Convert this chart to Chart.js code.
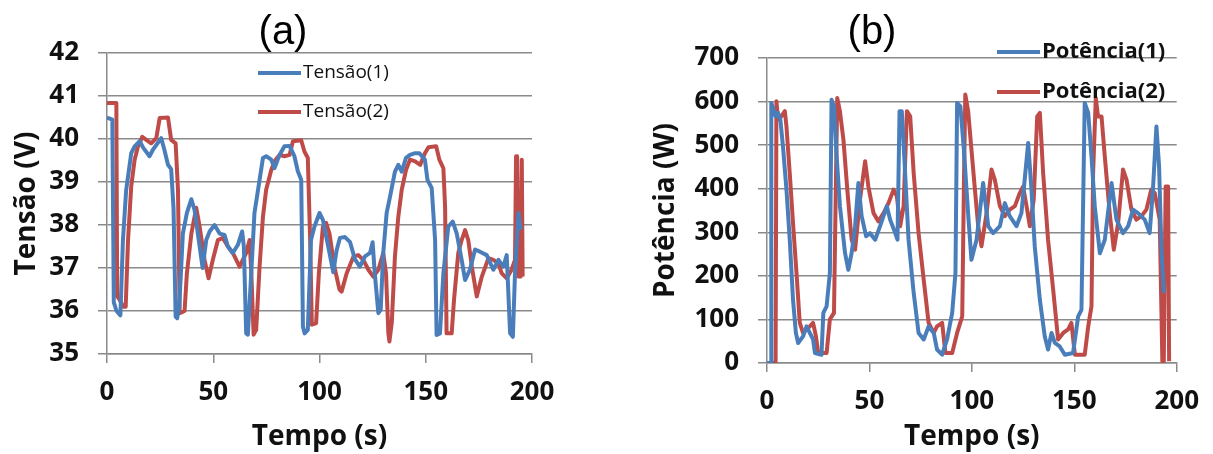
<!DOCTYPE html>
<html>
<head>
<meta charset="utf-8">
<script src="https://cdn.jsdelivr.net/npm/chart.js@4/dist/chart.umd.min.js"></script>
<style>
  body { margin: 0; background: #fff; }
  #wrap { position: relative; width: 1213px; height: 454px; }
  canvas { position: absolute; top: 0; }
  #cA { left: 0; }
  #cB { left: 606px; }
</style>
</head>
<body>
<div id="wrap">
  <canvas id="cA" width="606" height="454"></canvas>
  <canvas id="cB" width="607" height="454"></canvas>
</div>
<script>
// ---- dados ----
// (a) Tensão
const tempoT1 = [0, 2.5, 3.2, 4.5, 6.3, 7.5, 9, 11.4, 13, 15.4, 17, 20, 21.6, 25.5, 27, 28.7, 30.2, 31.3, 32.3, 33, 34, 35.7, 37.6, 39.7, 41.2, 43.6, 45, 46.7, 48.3, 50.6, 53, 55.3, 56.9, 59.2, 61.6, 63.6, 64.4, 65.5, 66.3, 67.9, 69.4, 71.8, 73.4, 74.9, 77.3, 78.8, 81.2, 83.5, 85.9, 88.2, 89.8, 91.4, 92.2, 93, 94.5, 96, 97.6, 100, 101.6, 104.7, 106.5, 108, 109.6, 112, 114.4, 116.7, 119, 121.4, 123.8, 125, 126, 127.7, 128.8, 130, 131.6, 133.2, 135.5, 137.1, 138.7, 140.7, 142.6, 145, 147, 149.6, 150.8, 152.8, 154.4, 155.1, 156.7, 158.3, 160.6, 162.7, 164.6, 166.9, 168.5, 170.8, 173.2, 175.5, 178.7, 181.8, 184.2, 186.5, 188.1, 189.7, 191, 192, 193.6, 194.4, 195];
const tensao1 = [40.5, 40.45, 36.2, 36.0, 35.9, 37.65, 38.8, 39.67, 39.83, 39.95, 39.8, 39.6, 39.75, 40.02, 39.75, 39.4, 39.3, 38.4, 35.87, 35.83, 36.1, 37.8, 38.28, 38.6, 38.35, 37.5, 37.0, 37.65, 37.85, 38.0, 37.8, 37.77, 37.5, 37.35, 37.54, 37.85, 37.5, 35.48, 35.45, 36.9, 38.28, 39.05, 39.56, 39.6, 39.52, 39.32, 39.63, 39.83, 39.84, 39.6, 39.25, 39.05, 35.64, 35.48, 35.56, 37.65, 37.96, 38.28, 38.12, 37.35, 36.9, 37.4, 37.7, 37.72, 37.6, 37.2, 37.03, 37.27, 37.35, 37.6, 36.88, 35.95, 36.03, 37.35, 38.28, 38.66, 39.24, 39.4, 39.24, 39.56, 39.63, 39.67, 39.67, 39.52, 39.05, 38.86, 37.65, 35.44, 35.48, 36.88, 37.96, 38.08, 37.8, 37.19, 36.72, 36.96, 37.43, 37.38, 37.3, 36.96, 37.19, 37.03, 37.3, 35.48, 35.4, 36.88, 38.28, 37.96, 37.9];

const tempoT2 = [0, 4.4, 4.8, 6, 7.5, 8.8, 9.9, 11.4, 13, 14.6, 16.6, 18.5, 20.8, 23.2, 24.8, 28.7, 30.2, 32.3, 33.4, 34.2, 36.5, 37.6, 39.7, 42, 43.6, 45.9, 47.8, 49.8, 52.2, 54.5, 56.9, 59.2, 62.4, 65.5, 67.1, 67.9, 69, 70.2, 71.8, 73.4, 74.9, 77.3, 78.8, 81.2, 83.5, 85.9, 87.5, 91.4, 92.9, 94.5, 95.6, 96.4, 98.4, 99.7, 101.6, 103.1, 104.7, 107, 109.4, 110.4, 112.8, 116, 118.3, 120.6, 123, 125.3, 127.7, 130, 131.3, 132.4, 132.9, 134, 135.5, 137.1, 138.7, 140.7, 142.6, 145, 147.4, 149.6, 151.3, 154.9, 156.4, 158.3, 159.1, 159.8, 162.2, 163.3, 165.3, 166.9, 168.5, 170, 171.7, 174, 176.4, 179.5, 181.8, 184.2, 185.7, 188.1, 190.4, 192, 192.5, 193, 193.6, 194.7, 195.2, 195.6];
const tensao2 = [40.84, 40.84, 36.34, 36.26, 36.1, 36.1, 37.65, 38.9, 39.52, 39.83, 40.05, 39.98, 39.9, 40.02, 40.49, 40.5, 39.98, 39.9, 38.82, 35.95, 36.0, 36.88, 37.8, 38.4, 37.96, 37.19, 36.76, 37.19, 37.65, 37.7, 37.5, 37.35, 37.03, 37.35, 37.65, 36.9, 35.45, 35.56, 37.03, 38.2, 38.82, 39.28, 39.48, 39.63, 39.6, 39.63, 39.95, 39.97, 39.71, 39.56, 37.65, 35.68, 35.72, 36.88, 37.96, 38.05, 37.8, 37.03, 36.5, 36.45, 36.88, 37.27, 37.3, 37.19, 36.96, 36.8, 36.96, 37.35, 36.88, 35.48, 35.29, 35.72, 37.27, 38.2, 38.82, 39.28, 39.52, 39.48, 39.4, 39.67, 39.81, 39.83, 39.52, 39.32, 38.43, 35.48, 35.48, 36.26, 37.35, 37.65, 37.88, 37.65, 37.03, 36.34, 36.8, 37.23, 37.19, 37.11, 36.88, 36.76, 36.96, 37.19, 39.6, 39.6, 36.8, 36.8, 39.52, 36.8];

// (b) Potência
const tempoP1 = [0, 2, 2.1, 3, 4.2, 5.4, 6.5, 7.8, 9.5, 11.1, 12.7, 14.1, 15.2, 17.6, 19.3, 20.9, 22.5, 23.4, 26.6, 27.5, 29.1, 30.7, 31.5, 32.7, 34, 35.6, 38.1, 39.7, 41.3, 43, 44.6, 46.2, 48.4, 50.3, 52.8, 55.2, 58.5, 60.1, 62.6, 63.7, 64.7, 65.8, 67, 69.1, 71.6, 74, 76.5, 78.9, 81.4, 83, 85.5, 87.9, 90.4, 92, 92.8, 94.4, 96.1, 98.5, 99.8, 102.3, 105.5, 108, 110.4, 113.7, 116.1, 118.5, 121.8, 124.2, 125.8, 127.5, 129.1, 130.7, 133.2, 135.6, 137.2, 138.9, 140.5, 142.9, 145.4, 149.4, 151.9, 153.5, 155.1, 156.8, 158.4, 160, 162.5, 164.9, 168.2, 170.6, 173.8, 176.3, 178.7, 181.1, 184.4, 186.8, 188.4, 190.1, 191.4, 192.5, 193.7];
const potencia1 = [0, 0, 597, 585, 566, 574, 559, 497, 398, 283, 145, 69, 46, 61, 84, 69, 54, 23, 19, 115, 130, 207, 604, 589, 474, 360, 252, 214, 252, 314, 413, 337, 291, 298, 283, 314, 360, 329, 298, 283, 578, 578, 474, 283, 161, 69, 54, 84, 69, 31, 19, 54, 115, 207, 597, 589, 490, 321, 237, 283, 413, 314, 298, 314, 367, 337, 314, 344, 421, 505, 398, 268, 145, 61, 31, 69, 46, 38, 19, 23, 107, 122, 597, 574, 474, 360, 252, 283, 413, 329, 298, 314, 352, 344, 329, 298, 398, 543, 451, 268, 161];

const tempoP2 = [0, 4.2, 4.6, 5.4, 7, 8.7, 9.5, 11.1, 12.7, 14.4, 16, 17.6, 19.3, 20.9, 22.5, 23.9, 25, 29.1, 30.7, 32.7, 33.7, 34.3, 35.6, 37.3, 39.2, 41.3, 43, 45.4, 47.9, 49.5, 52, 54.4, 56.9, 59.3, 61.8, 63.4, 65, 66.7, 68.3, 69.9, 71.6, 74, 76.5, 78.9, 81.4, 83, 85.5, 87.1, 90.4, 92.8, 95.3, 96.2, 96.8, 98.2, 99.8, 101.5, 103.1, 104.7, 107.2, 109.6, 111.2, 113.7, 116.1, 118.5, 121, 123.4, 125, 126.7, 128.3, 130.2, 131.9, 133.2, 134.8, 137.2, 139.7, 142.1, 144.6, 147, 148.6, 150.3, 155.1, 156.8, 158.4, 159.2, 160.5, 161.6, 163.3, 164.9, 167.3, 169.3, 171.4, 173.8, 175.5, 177.9, 180.3, 182.8, 185.2, 187.6, 189.3, 191.7, 193, 193.7, 194.6, 195.8, 196.3];
const potencia2 = [0, 0, 601, 559, 566, 578, 543, 436, 321, 207, 92, 69, 77, 84, 92, 61, 23, 23, 100, 115, 436, 608, 578, 513, 398, 283, 260, 375, 463, 405, 344, 325, 344, 367, 398, 383, 314, 360, 578, 566, 436, 298, 191, 92, 69, 84, 92, 23, 23, 69, 107, 436, 616, 578, 490, 398, 314, 268, 344, 444, 421, 360, 337, 352, 360, 390, 405, 360, 314, 375, 566, 574, 436, 283, 168, 54, 69, 77, 92, 19, 19, 84, 130, 436, 608, 566, 566, 474, 344, 260, 321, 444, 421, 352, 329, 337, 352, 398, 390, 329, 4, 4, 405, 405, 4];

const ticksTempo = [0, 50, 100, 150, 200];

// ---- estilos ----
const azul = '#4a7ebb';
const vermelho = '#be4b48';
const cinza = '#8a8a8a';
const fonteEixo = 'Open Sans';

function pares(xs, ys) {
  return xs.map((x, i) => ({ x: x, y: ys[i] }));
}

// desenha o rótulo (a)/(b) e a legenda
const painel = {
  id: 'painel',
  afterDraw(chart, args, o) {
    const ctx = chart.ctx;
    ctx.save();
    ctx.fillStyle = '#000';
    ctx.font = '40px "Liberation Sans"';
    ctx.textAlign = 'center';
    ctx.textBaseline = 'alphabetic';
    ctx.fillText(o.rotulo, o.rotuloX, o.rotuloY);
    chart.data.datasets.forEach((ds, i) => {
      const y = o.legY[i];
      ctx.strokeStyle = ds.borderColor;
      ctx.lineWidth = 4;
      ctx.beginPath();
      ctx.moveTo(o.legX, y);
      ctx.lineTo(o.legX + 43, y);
      ctx.stroke();
      ctx.fillStyle = '#111';
      ctx.font = o.legFonte;
      ctx.textAlign = 'left';
      ctx.textBaseline = 'middle';
      ctx.fillText(ds.label, o.legX + 45, y);
    });
    ctx.restore();
  }
};

function criar(id, cfg) {
  return new Chart(document.getElementById(id), {
    type: 'line',
    data: {
      datasets: cfg.series.map(s => ({
        label: s.label,
        data: s.data,
        borderColor: s.cor,
        borderWidth: 4,
        pointRadius: 0,
        tension: 0,
        borderJoinStyle: 'round',
        fill: false
      }))
    },
    options: {
      responsive: false,
      animation: false,
      layout: { padding: { left: 0, top: cfg.top, right: cfg.right, bottom: 0 } },
      plugins: {
        legend: { display: false },
        tooltip: { enabled: false },
        painel: cfg.painel
      },
      scales: {
        x: {
          type: 'linear',
          min: 0, max: 200,
          afterBuildTicks: s => { s.ticks = ticksTempo.map(v => ({ value: v })); },
          grid: { drawOnChartArea: false, drawTicks: true, tickLength: 9, color: cinza, lineWidth: 1.5 },
          border: { color: cinza, width: 1.5 },
          ticks: { color: '#111', padding: 14, font: { family: fonteEixo, size: 26, weight: 'bold' } },
          title: { display: true, text: 'Tempo (s)', color: '#111', padding: { top: 0, bottom: 0 },
                   font: { family: fonteEixo, size: 28, weight: 'bold' } },
          afterFit: s => { s.height = cfg.xAltura; }
        },
        y: {
          min: cfg.yMin, max: cfg.yMax,
          ticks: { stepSize: cfg.yPasso, color: '#111', padding: 19,
                   font: { family: fonteEixo, size: 26, weight: 'bold' } },
          grid: { color: cinza, lineWidth: 1.5, tickLength: 9 },
          border: { color: cinza, width: 1.5 },
          title: { display: true, text: cfg.yTitulo, color: '#111', padding: { top: cfg.yTitPad, bottom: 0 },
                   font: { family: fonteEixo, size: 28, weight: 'bold' } },
          afterFit: s => { s.width = cfg.yLargura; }
        }
      }
    },
    plugins: [painel]
  });
}

criar('cA', {
  series: [
    { label: 'Tensão(1)', data: pares(tempoT1, tensao1), cor: azul },
    { label: 'Tensão(2)', data: pares(tempoT2, tensao2), cor: vermelho }
  ],
  top: 53, right: 74, xAltura: 100, yLargura: 107, yTitPad: 10,
  yMin: 35, yMax: 42, yPasso: 1, yTitulo: 'Tensão (V)',
  painel: { rotulo: '(a)', rotuloX: 283, rotuloY: 44, legX: 258, legY: [73, 112], legFonte: '19px "Open Sans"' }
});

criar('cB', {
  series: [
    { label: 'Potência(1)', data: pares(tempoP1, potencia1), cor: azul },
    { label: 'Potência(2)', data: pares(tempoP2, potencia2), cor: vermelho }
  ],
  top: 58, right: 36, xAltura: 91, yLargura: 161, yTitPad: 43,
  yMin: 0, yMax: 700, yPasso: 100, yTitulo: 'Potência (W)',
  painel: { rotulo: '(b)', rotuloX: 266, rotuloY: 44, legX: 391, legY: [52, 92], legFonte: 'bold 22px "Open Sans"' }
});
</script>
</body>
</html>
